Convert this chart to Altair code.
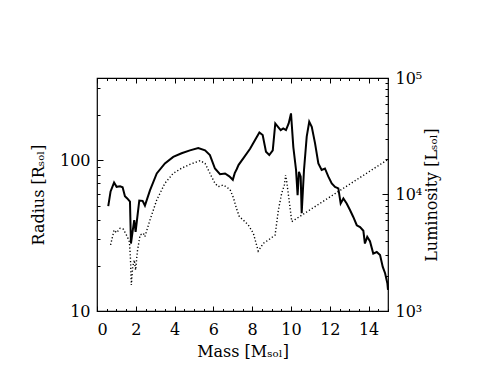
import altair as alt
import pandas as pd

# ---- data ----
radius_mass = [0.58, 0.70, 0.88, 1.01, 1.19, 1.32, 1.44, 1.56, 1.70, 1.75, 1.84, 1.92, 1.99, 2.08,
               2.18, 2.35, 2.47, 2.73, 3.08, 3.5, 3.93, 4.36, 4.79, 5.22, 5.57, 5.82, 6.08, 6.34,
               6.6, 6.82, 7.0, 7.1, 7.2, 7.3, 7.54, 7.89, 8.14, 8.37, 8.54, 8.71, 8.88, 9.06,
               9.19, 9.35, 9.47, 9.6, 9.74, 9.88, 10.0, 10.12, 10.26, 10.34, 10.41, 10.5, 10.55,
               10.67, 10.81, 10.94, 11.07, 11.24, 11.41, 11.58, 11.75, 11.92, 12.1, 12.27, 12.44,
               12.56, 12.7, 12.87, 13.04, 13.21, 13.39, 13.56, 13.73, 13.81, 13.93, 14.07, 14.24,
               14.42, 14.59, 14.73, 14.85, 14.97, 15.0]
radius_vals = [49.5, 62, 71, 66.5, 67, 66, 57.7, 55.7, 53, 28, 34, 40, 33.5, 42,
               54, 53.7, 50, 63, 81.6, 95, 105, 111, 116, 120, 116, 108, 88, 80.7,
               81.6, 78, 74, 82, 87, 93, 102.6, 119, 135.6, 152.5, 146.5, 113.5, 108, 116,
               175, 165, 158, 162, 158, 175, 204, 122, 86, 58.6, 83.7, 77.5, 44.4,
               86, 143, 179.6, 166, 129, 95, 86, 88, 78, 70, 66.5, 65,
               51.6, 55.7, 51.6, 46.7, 42, 37, 36, 34, 28, 31, 29, 24,
               24.6, 23.5, 19.6, 17.8, 15.2, 13.8]

lum_mass = [0.70, 0.88, 1.01, 1.19, 1.36, 1.56, 1.67, 1.72, 1.77, 1.84, 1.92, 1.99, 2.08, 2.22,
            2.39, 2.47, 2.73, 3.08, 3.5, 3.93, 4.36, 4.79, 5.31, 5.57, 5.82, 6.08, 6.25, 6.51,
            6.77, 6.86, 7.03, 7.2, 7.34, 7.54, 7.8, 8.06, 8.31, 8.57, 8.83, 9.18, 9.35, 9.52,
            9.66, 9.72, 9.78, 9.9, 10.04, 15.0]
lum_vals = [3690, 4950, 4700, 5130, 5040, 4350, 3930, 2930, 1670, 2400, 2740, 2250, 3240, 4490,
            4640, 4350, 6030, 8980, 12480, 15200, 16800, 18150, 19500, 18520, 15200, 12480, 11670, 12070,
            11300, 11000, 9400, 7500, 6440, 6040, 5470, 4640, 3270, 3810, 4060, 4490, 7360, 10240,
            12070, 14700, 12870, 8980, 5850, 20000]

x_major = [0, 2, 4, 6, 8, 10, 12, 14]
x_minor = [0.5, 1, 1.5, 2.5, 3, 3.5, 4.5, 5, 5.5, 6.5, 7, 7.5, 8.5, 9, 9.5,
           10.5, 11, 11.5, 12.5, 13, 13.5, 14.5, 15]
r_major = [10, 100]
r_minor = [20, 30, 40, 50, 60, 70, 80, 90, 200, 300]
l_major = [1000, 10000, 100000]
l_minor = [2000, 3000, 4000, 5000, 6000, 7000, 8000, 9000,
           20000, 30000, 40000, 50000, 60000, 70000, 80000, 90000]

rad = pd.DataFrame({"mass": radius_mass, "radius": radius_vals})
lum = pd.DataFrame({"mass": lum_mass, "lum": lum_vals})

W, H = 291, 233
FONT = "DejaVu Serif"
FS = 16

xs = alt.Scale(domain=[0, 15], nice=False, zero=False)
rs = alt.Scale(type="log", domain=[10, 350], nice=False)
ls = alt.Scale(type="log", domain=[1000, 100000], nice=False)


def tick_axis(orient, offset, values, size):
    return alt.Axis(orient=orient, offset=offset, values=values, labels=False, ticks=True,
                    tickSize=size, tickColor="black", tickWidth=1, domain=False, grid=False,
                    title=None)


# luminosity (dotted) with right label axis and inward top-major x ticks
l_lum = alt.Chart(lum).mark_line(color="black", strokeWidth=1.4, strokeDash=[1.2, 2.2]).encode(
    x=alt.X("mass:Q", scale=xs, axis=tick_axis("top", -H, x_major, 5)),
    y=alt.Y("lum:Q", scale=ls, axis=alt.Axis(
        orient="right", values=l_major, ticks=False, domain=False, grid=False,
        labelExpr="datum.value >= 99999 ? '10⁵' : (datum.value >= 9999 ? '10⁴' : '10³')",
        labelFont=FONT, labelFontSize=FS, labelColor="black", labelPadding=7,
        labelBaseline="middle",
        title="Luminosity [Lₛₒₗ]", titleFont=FONT, titleFontSize=FS, titleFontWeight="normal",
        titleColor="black", titlePadding=18, titleAngle=270)),
)

# radius (solid) with bottom and left label axes
l_rad = alt.Chart(rad).mark_line(color="black", strokeWidth=2).encode(
    x=alt.X("mass:Q", scale=xs, axis=alt.Axis(
        orient="bottom", values=x_major, ticks=False, domain=False, grid=False,
        labelFont=FONT, labelFontSize=FS, labelColor="black", labelPadding=10,
        title="Mass [Mₛₒₗ]", titleFont=FONT, titleFontSize=FS, titleFontWeight="normal",
        titleColor="black", titlePadding=6)),
    y=alt.Y("radius:Q", scale=rs, axis=alt.Axis(
        orient="left", values=r_major, ticks=False, domain=False, grid=False,
        labelFont=FONT, labelFontSize=FS, labelColor="black", labelPadding=7,
        labelBaseline="middle",
        title="Radius [Rₛₒₗ]", titleFont=FONT, titleFontSize=FS, titleFontWeight="normal",
        titleColor="black", titlePadding=13)),
)

ghost_r = alt.Chart(rad).mark_line(opacity=0)
ghost_l = alt.Chart(lum).mark_line(opacity=0)

t3 = ghost_r.encode(
    x=alt.X("mass:Q", scale=xs, axis=tick_axis("top", -H, x_minor, 2.5)),
    y=alt.Y("radius:Q", scale=rs, axis=tick_axis("right", -W, r_major, 6)),
)
t4 = ghost_r.encode(
    x=alt.X("mass:Q", scale=xs, axis=tick_axis("bottom", -H, x_major, 5)),
    y=alt.Y("radius:Q", scale=rs, axis=tick_axis("right", -W, r_minor, 3)),
)
t5 = ghost_l.encode(
    x=alt.X("mass:Q", scale=xs, axis=tick_axis("bottom", -H, x_minor, 2.5)),
    y=alt.Y("lum:Q", scale=ls, axis=tick_axis("left", -W, l_major, 6)),
)
t6 = ghost_l.encode(
    x=alt.X("mass:Q", scale=xs, axis=None),
    y=alt.Y("lum:Q", scale=ls, axis=tick_axis("left", -W, l_minor, 3)),
)

chart = alt.layer(l_lum, l_rad, t3, t4, t5, t6).resolve_scale(
    x="independent", y="independent"
).resolve_axis(
    x="independent", y="independent"
).properties(
    width=W, height=H,
    padding={"left": 89, "top": 70, "right": 89, "bottom": 71},
    autosize=alt.AutoSizeParams(type="none"),
    background="white",
).configure_view(stroke="black", strokeWidth=1.2)

chart.save("out.html", embed_options={"renderer": "svg", "actions": False})
